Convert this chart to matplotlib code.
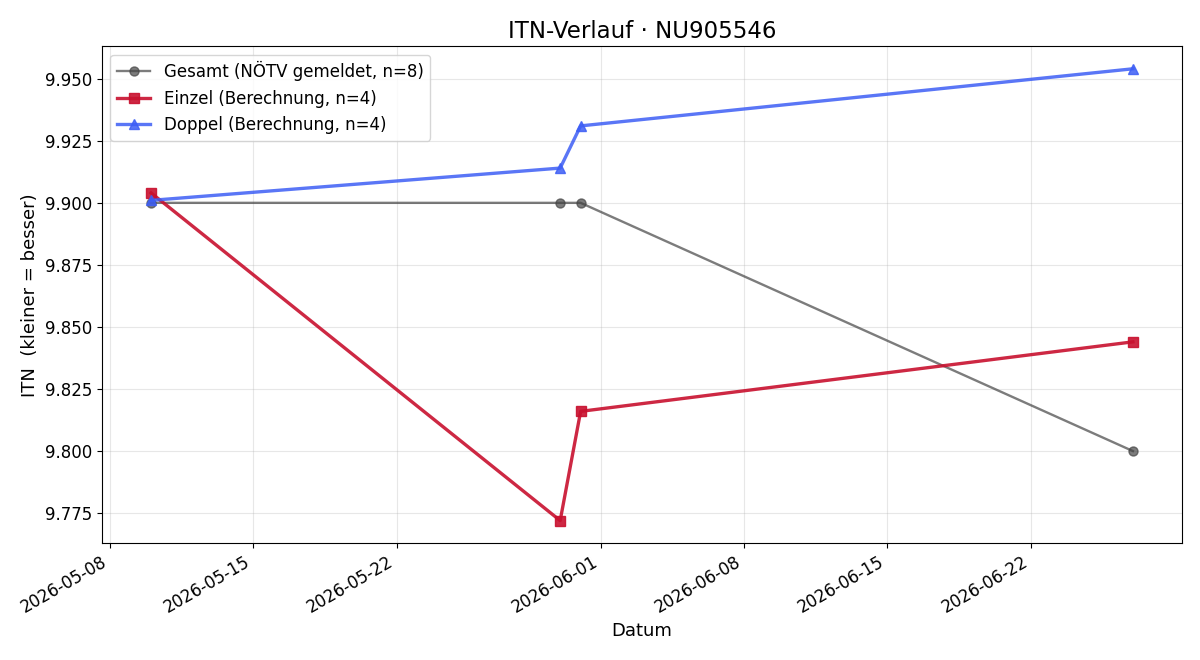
import numpy as np
import pandas as pd
import matplotlib
matplotlib.use("Agg")
import matplotlib.pyplot as plt
import matplotlib.dates as mdates

gesamt_dates = pd.to_datetime(["2026-05-10", "2026-05-30", "2026-05-31", "2026-06-27"])
gesamt_itn = [9.900, 9.900, 9.900, 9.800]

einzel_dates = pd.to_datetime(["2026-05-10", "2026-05-30", "2026-05-31", "2026-06-27"])
einzel_itn = [9.904, 9.772, 9.816, 9.844]

doppel_dates = pd.to_datetime(["2026-05-10", "2026-05-30", "2026-05-31", "2026-06-27"])
doppel_itn = [9.901, 9.914, 9.931, 9.954]

fig, ax = plt.subplots(figsize=(12, 6.6), dpi=100)

ax.plot(gesamt_dates, gesamt_itn, color="#444444", marker="o", markersize=6.5,
        linewidth=1.7, alpha=0.7, label="Gesamt (NÖTV gemeldet, n=8)")
ax.plot(einzel_dates, einzel_itn, color="#c8102e", marker="s", markersize=7.5,
        linewidth=2.4, alpha=0.9, label="Einzel (Berechnung, n=4)")
ax.plot(doppel_dates, doppel_itn, color="#3d5ef5", marker="^", markersize=7.5,
        linewidth=2.4, alpha=0.85, label="Doppel (Berechnung, n=4)")

ax.set_title("ITN-Verlauf · NU905546", fontsize=16.5)
ax.set_xlabel("Datum", fontsize=13)
ax.set_ylabel("ITN  (kleiner = besser)", fontsize=13)
ax.yaxis.set_major_formatter(matplotlib.ticker.FormatStrFormatter("%.3f"))
ax.xaxis.set_major_locator(mdates.DayLocator(bymonthday=[1, 8, 15, 22]))
ax.xaxis.set_major_formatter(mdates.DateFormatter("%Y-%m-%d"))
ax.tick_params(labelsize=12)
ax.grid(True, alpha=0.3)
ax.legend(loc="upper left", fontsize=12)
fig.autofmt_xdate()
fig.subplots_adjust(left=0.085, right=0.985, top=0.930, bottom=0.177)
fig.savefig("out.png")
